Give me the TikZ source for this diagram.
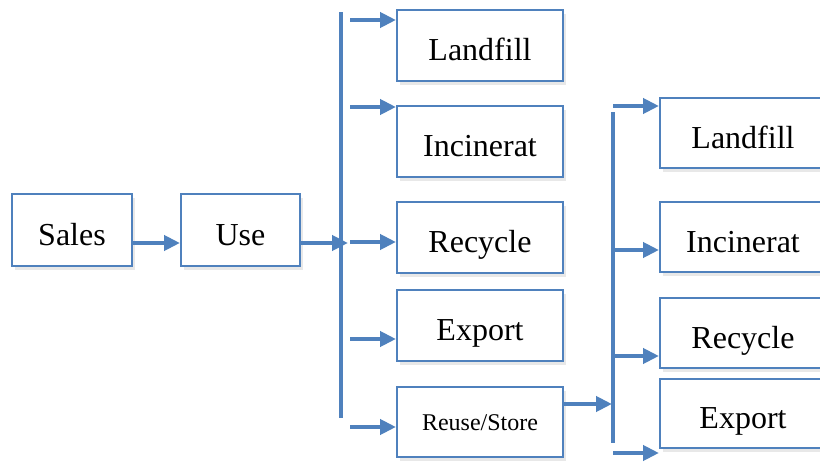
\documentclass[tikz,border=0pt]{standalone}
\usepackage{fontspec}
\setmainfont{Liberation Serif}
\usetikzlibrary{arrows.meta}
\usetikzlibrary{shadows}
\definecolor{boxblue}{RGB}{79,129,189}

\begin{document}
\begin{tikzpicture}[x=1pt,y=-1pt,>={Triangle[length=16pt,width=15pt]}]
		\tikzstyle{stage}=[draw=boxblue,line width=2pt,fill=white,minimum width=166pt,minimum height=71pt,font=\fontsize{32}{36}\selectfont,text height=30pt,text depth=0pt,drop shadow={shadow xshift=3pt,shadow yshift=-4pt,opacity=0.18}]
		\tikzstyle{flow}=[->,draw=boxblue,line width=4pt]
		\tikzstyle{bus}=[draw=boxblue,line width=4pt]

		\useasboundingbox (0,0) rectangle (820,463);

		\node[stage,minimum width=120pt,minimum height=72pt](sales) at (72,230){Sales};
		\node[stage,minimum width=119pt,minimum height=72pt](use) at (240.5,230){Use};

		\node[stage](l1) at (480,45.5){Landfill};
		\node[stage](i1) at (480,141){Incinerat};
		\node[stage](r1) at (480,237.5){Recycle};
		\node[stage](e1) at (480,325.5){Export};
		\node[stage,minimum height=70pt,font=\fontsize{24}{28}\selectfont,text height=16pt](rs) at (480,422){Reuse/Store};
%
		\node[stage,minimum height=70pt](l2) at (743,133){Landfill};
		\node[stage,minimum height=70pt](i2) at (743,237){Incinerat};
		\node[stage,minimum height=70pt](r2) at (743,333){Recycle};
		\node[stage,minimum height=69pt](e2) at (743,413.5){Export};

		\coordinate (b1top) at (341,12);
		\coordinate (b1bot) at (341,418);
		\coordinate (b2top) at (613,112);
		\coordinate (b2bot) at (613,443);
		\coordinate (hub1) at (348,243);
		\coordinate (hub2) at (612,404);

		\coordinate (t1) at (350,20);
		\coordinate (t2) at (350,107);
		\coordinate (t3) at (350,242);
		\coordinate (t4) at (350,339);
		\coordinate (t5) at (350,427);

		\coordinate (u1) at (613,106);
		\coordinate (u2) at (613,250);
		\coordinate (u3) at (613,356);
		\coordinate (u4) at (613,453);

		\draw[bus] (b1top) -- (b1bot);
		\draw[bus] (b2top) -- (b2bot);

		\draw[flow] ([yshift=-13pt]sales.east) -- ([yshift=-13pt]use.west);
		\draw[flow] (use.east |- hub1) -- (hub1);

		\draw[flow] (t1) -- (t1 -| l1.west);
		\draw[flow] (t2) -- (t2 -| i1.west);
		\draw[flow] (t3) -- (t3 -| r1.west);
		\draw[flow] (t4) -- (t4 -| e1.west);
		\draw[flow] (t5) -- (t5 -| rs.west);

		\draw[flow] (rs.east |- hub2) -- (hub2);

		\draw[flow] (u1) -- (u1 -| l2.west);
		\draw[flow] (u2) -- (u2 -| i2.west);
		\draw[flow] (u3) -- (u3 -| r2.west);
		\draw[flow] (u4) -- (u4 -| e2.west);
\end{tikzpicture}
\end{document}
